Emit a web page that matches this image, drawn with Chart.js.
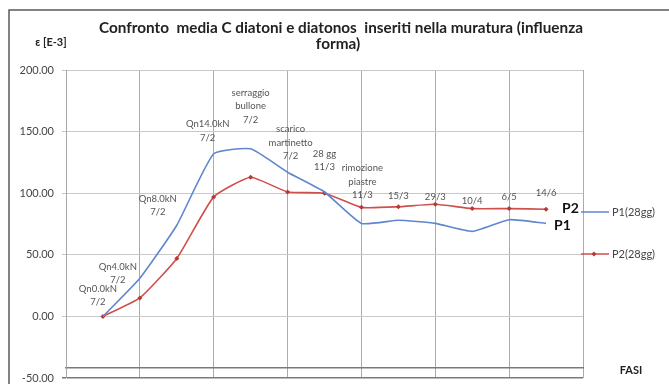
<!DOCTYPE html>
<html>
<head>
<meta charset="utf-8">
<script src="https://cdn.jsdelivr.net/npm/chart.js@4/dist/chart.umd.min.js"></script>
<style>
  html, body { margin: 0; padding: 0; background: #fff; }
  #wrap { width: 669px; height: 384px; position: relative; }
</style>
</head>
<body>
<div id="wrap"><canvas id="myChart"></canvas></div>
<script>
// phases of the test (text shown above the points)
const phases = [
  ['Qn0.0kN', '7/2'],
  ['Qn4.0kN', '7/2'],
  ['Qn8.0kN', '7/2'],
  ['Qn14.0kN', '7/2'],
  ['serraggio', 'bullone', '7/2'],
  ['scarico', 'martinetto', '7/2'],
  ['28 gg', '11/3'],
  ['rimozione', 'piastre', '11/3'],
  ['15/3'],
  ['29/3'],
  ['10/4'],
  ['6/5'],
  ['14/6'],
];
const categories = ['', ...phases.map(p => p.join(' ')), ''];

const p1 = [null, 0, 31, 74, 132, 136, 117, 101, 75.5, 78, 75.5, 69, 78.5, 75.5, null];
const p2 = [null, 0, 15, 47, 97, 113, 101, 100, 88.5, 89, 91, 87.5, 87.5, 87, null];

const yMin = -50;
const yMax = 200;
const yStep = 50;

// where each phase label sits, relative to the upper point [dx, dy]
const labelShift = [[-5, -14], [-22, 2], [-19, -13], [-6, -16], [0, -29], [3, -16], [0, -25],
  [1, -12], [0, -11], [0, -7], [0, -8], [0, -12], [0, -16]];

const blue = '#5f86cf';
const red = '#cf4f4b';
const FONT = 'Lato, "Open Sans", sans-serif';

const decor = {
  id: 'decor',
  beforeDraw(chart) {
    const c = chart.ctx;
    c.save();
    c.strokeStyle = '#5a5a5a';
    c.lineWidth = 1.5;
    c.beginPath();
    c.moveTo(9, chart.height + 2);
    c.lineTo(9, 10);
    c.lineTo(chart.width + 2, 10);
    c.stroke();
    c.restore();
  },
  afterDatasetsDraw(chart) {
    const c = chart.ctx;
    const x = chart.scales.x;
    const y = chart.scales.y;
    const area = chart.chartArea;
    c.save();

    // title
    c.fillStyle = '#222';
    c.textAlign = 'center';
    c.textBaseline = 'middle';
    c.font = 'bold 15.3px ' + FONT;
    c.fillText('Confronto  media C diatoni e diatonos  inseriti nella muratura (influenza', 341, 28);
    c.fillText('forma)', 338, 44);

    // axis titles
    c.font = 'bold 11px ' + FONT;
    c.fillText('ε [E-3]', 51, 42);
    c.fillText('FASI', 631, 370);

    // phase labels
    c.fillStyle = '#555';
    c.font = '9.5px ' + FONT;
    phases.forEach((lines, i) => {
      const idx = i + 1;
      const px = x.getPixelForValue(idx);
      const py = Math.min(y.getPixelForValue(p1[idx]), y.getPixelForValue(p2[idx]));
      const [dx, dy] = labelShift[i];
      lines.slice().reverse().forEach((t, k) => {
        c.fillText(t, px + dx, py + dy - k * 13.5);
      });
    });

    // series names at the line ends
    const last = p1.length - 2;
    const lx = x.getPixelForValue(last);
    c.fillStyle = '#111';
    c.textAlign = 'left';
    c.font = 'bold 14px ' + FONT;
    c.fillText('P2', lx + 16, y.getPixelForValue(p2[last]) - 1);
    c.fillText('P1', lx + 8, y.getPixelForValue(p1[last]) + 2);

    // legend
    const items = chart.data.datasets.map((d, i) => ({ label: d.label, color: d.borderColor, ly: i === 0 ? 212 : 254, marker: d.pointRadius > 0 }));
    c.font = '11px ' + FONT;
    items.forEach(it => {
      c.strokeStyle = it.color;
      c.lineWidth = 1.5;
      c.beginPath();
      c.moveTo(area.right - 2, it.ly);
      c.lineTo(area.right + 26, it.ly);
      c.stroke();
      if (it.marker) {
        c.fillStyle = '#b23b37';
        c.beginPath();
        c.moveTo(area.right + 11, it.ly - 2.5);
        c.lineTo(area.right + 13.5, it.ly);
        c.lineTo(area.right + 11, it.ly + 2.5);
        c.lineTo(area.right + 8.5, it.ly);
        c.fill();
      }
      c.fillStyle = '#444';
      c.fillText(it.label, area.right + 29, it.ly);
    });
    c.restore();
  }
};

const data = {
  labels: categories,
  datasets: [{
    label: 'P1(28gg)',
    data: p1,
    borderColor: blue,
    borderWidth: 1.6,
    pointRadius: 0,
    tension: 0.15,
  }, {
    label: 'P2(28gg)',
    data: p2,
    borderColor: red,
    borderWidth: 1.6,
    pointRadius: 2.5,
    pointStyle: 'rectRot',
    pointBackgroundColor: '#b23b37',
    pointBorderWidth: 0,
    tension: 0.15,
  }]
};

const config = {
  type: 'line',
  data: data,
  plugins: [decor],
  options: {
    responsive: true,
    maintainAspectRatio: false,
    animation: false,
    layout: {
      padding: { top: 70, right: 86, bottom: 6, left: 10 }
    },
    scales: {
      x: {
        position: { y: -41.5 },
        ticks: { display: false, autoSkip: false },
        grid: {
          drawTicks: false,
          color: ctx => ctx.index % 2 === 0 ? '#ababab' : 'rgba(0,0,0,0)',
          lineWidth: 1
        },
        border: { color: '#7a7a7a', width: 1.5 },
        afterFit: s => { s.height = 0; }
      },
      y: {
        min: yMin,
        max: yMax,
        afterFit: s => { s.width = 56; s.paddingTop = 0; s.paddingBottom = 0; },
        ticks: {
          stepSize: yStep,
          color: '#444',
          padding: 8,
          font: { size: 11, family: FONT },
          callback: v => v.toFixed(2)
        },
        grid: {
          tickLength: 4,
          color: ctx => ctx.tick && ctx.tick.value === yMin ? '#7a7a7a' : '#c8c8c8',
          lineWidth: ctx => ctx.tick && ctx.tick.value === yMin ? 1.5 : 1
        },
        border: { color: '#a8a8a8' }
      }
    },
    plugins: {
      legend: { display: false },
      tooltip: { enabled: false }
    }
  }
};

const myChart = new Chart(document.getElementById('myChart').getContext('2d'), config);
</script>
</body>
</html>
